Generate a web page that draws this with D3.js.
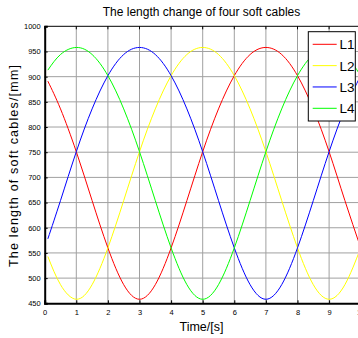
<!DOCTYPE html>
<html><head><meta charset="utf-8">
<script src="https://cdn.jsdelivr.net/npm/d3@7"></script>
<style>body{margin:0;background:#fff}svg{display:block}text{font-family:"Liberation Sans",Arial,sans-serif}</style>
</head><body>
<svg id="c" width="358" height="338"></svg>
<script>
const time = [0.1,0.5,1,1.5,2,2.5,3,3.5,4,4.5,5,5.5,6,6.5,7,7.5,8,8.5,9,9.5,10];
const L1 = [891,836,751,654,560,487,458,487,560,654,751,836,902,944,958,944,902,836,751,654,560];
const L2 = [543,487,458,487,560,654,751,836,902,944,958,944,902,836,751,654,560,487,458,487,560];
const L3 = [578,654,751,836,902,944,958,944,902,836,751,654,560,487,458,487,560,654,751,836,902];
const L4 = [913,944,958,944,902,836,751,654,560,487,458,487,560,654,751,836,902,944,958,944,902];
const seriesNames = ["L1","L2","L3","L4"];
const seriesColors = ["#ff0000","#ffff00","#0000ff","#00ff00"];
const xTicks = [0,1,2,3,4,5,6,7,8,9,10];
const yTicks = [450,500,550,600,650,700,750,800,850,900,950,1000];
const title = "The length change of four soft cables";
const xLabel = "Time/[s]";
const yLabel = "The length of soft cables/[mm]";

(function(){
const svg = d3.select("#c");
const mL = 44.7, mR = 360.7, mT = 26.3, mB = 303.3;
const x = d3.scaleLinear().domain([0,10]).range([mL,mR]);
const y = d3.scaleLinear().domain([450,1000]).range([mB,mT]);

// grid
const g = svg.append("g");
g.selectAll("line.gx").data(xTicks.slice(1,-1)).enter().append("line")
  .attr("x1",d=>x(d)).attr("x2",d=>x(d)).attr("y1",mT).attr("y2",mB)
  .attr("stroke","#a0a0a0").attr("stroke-width",1);
g.selectAll("line.gy").data(yTicks.slice(1,-1)).enter().append("line")
  .attr("y1",d=>y(d)).attr("y2",d=>y(d)).attr("x1",mL).attr("x2",mR)
  .attr("stroke","#a0a0a0").attr("stroke-width",1);

// top border
svg.append("line").attr("x1",mL).attr("x2",mR).attr("y1",mT).attr("y2",mT).attr("stroke","#000").attr("stroke-width",1);

// axes
const xAxis = d3.axisBottom(x).tickValues(xTicks).tickSize(-3).tickPadding(6).tickFormat(d3.format("d"));
const yAxis = d3.axisLeft(y).tickValues(yTicks).tickSize(-3).tickPadding(4).tickFormat(d3.format("d"));
const gx = svg.append("g").attr("transform",`translate(0,${mB})`).call(xAxis);
const gy = svg.append("g").attr("transform",`translate(${mL},0)`).call(yAxis);
[gx,gy].forEach(a=>{
  a.select(".domain").attr("stroke","#000").attr("stroke-width",2);
  a.selectAll(".tick line").attr("stroke","#000");
  a.selectAll(".tick text").attr("font-size","7.5px").attr("fill","#000").attr("font-family","Liberation Sans, Arial, sans-serif");
});
// top ticks
svg.append("g").selectAll("line").data(xTicks).enter().append("line")
  .attr("x1",d=>x(d)).attr("x2",d=>x(d)).attr("y1",mT).attr("y2",mT+3).attr("stroke","#000");

// lines
const line = d3.line().x((d,i)=>x(time[i])).y(d=>y(d)).curve(d3.curveNatural);
[L1,L2,L3,L4].forEach((s,i)=>{
  svg.append("path").datum(s).attr("d",line).attr("fill","none")
    .attr("stroke",seriesColors[i]).attr("stroke-width",1);
});

// title & labels
svg.append("text").attr("x",201.5).attr("y",16).attr("text-anchor","middle")
  .attr("font-size","12px").text(title);
svg.append("text").attr("x",201.5).attr("y",331).attr("text-anchor","middle")
  .attr("font-size","12.5px").text(xLabel);
svg.append("text").attr("transform","translate(17.5,166) rotate(-90)").attr("text-anchor","middle")
  .attr("font-size","12.5px").attr("textLength",202).attr("lengthAdjust","spacing").text(yLabel);

// legend
const lg = svg.append("g");
lg.append("rect").attr("x",308.3).attr("y",31.7).attr("width",47).attr("height",89.3)
  .attr("fill","#fff").attr("stroke","#000").attr("stroke-width",1);
const ly = d3.scalePoint().domain(seriesNames).range([44.3,108.3]);
seriesNames.forEach((n,i)=>{
  lg.append("line").attr("x1",312.7).attr("x2",336.7).attr("y1",ly(n)).attr("y2",ly(n))
    .attr("stroke",seriesColors[i]).attr("stroke-width",1);
  lg.append("text").attr("x",339.5).attr("y",ly(n)+5).attr("font-size","13.5px").text(n);
});
})();
</script>
</body></html>
